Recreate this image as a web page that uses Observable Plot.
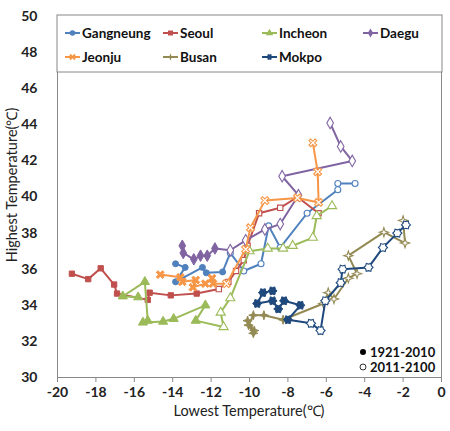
<!DOCTYPE html>
<html><head><meta charset="utf-8">
<script src="https://cdn.jsdelivr.net/npm/d3@7"></script>
<script src="https://cdn.jsdelivr.net/npm/@observablehq/plot@0.6"></script>
<style>body{margin:0;background:#fff}svg{display:block}</style>
</head><body><div id="chart"></div>
<script>
const xTicks = [-20,-18,-16,-14,-12,-10,-8,-6,-4,-2,0];
const yTicks = [30,32,34,36,38,40,42,44,46,48,50];
const sites = ["Gangneung","Seoul","Incheon","Daegu","Jeonju","Busan","Mokpo"];
const colors = ["#4F81BD","#C0504D","#9BBB59","#8064A2","#F79646","#948A54","#1F497D"];
const periods = ["1921-2010","2011-2100"];

// [lowest, highest] per decade; past = 1921-2010 (filled), future = 2011-2100 (open)
const gangneungPast = [[-13.85,36.3],[-13.35,36.1],[-13.85,35.3],[-12.45,36.1],[-12.25,35.8],[-11.4,35.85]];
const gangneungFuture = [[-11.0,36.9],[-10.3,35.9],[-9.4,36.3],[-9.0,38.4],[-8.4,37.2],[-7.0,39.1],[-5.4,40.4],[-5.4,40.75],[-4.5,40.75]];
const seoulPast = [[-19.25,35.75],[-18.4,35.45],[-17.75,36.05],[-17.05,35.15],[-16.9,34.65],[-15.3,34.3],[-15.2,34.7],[-14.1,34.55],[-12.75,34.65]];
const seoulFuture = [[-11.6,34.9],[-11.1,35.3],[-10.7,35.9],[-10.3,36.5],[-10.1,37.3],[-9.5,39.1],[-8.4,39.4],[-7.5,40.0],[-6.4,39.1]];
const incheonPast = [[-15.8,34.45],[-16.6,34.5],[-15.45,35.3],[-15.3,33.15],[-15.55,33.05],[-14.5,33.1],[-13.95,33.25],[-12.3,34.0],[-12.8,33.15]];
const incheonFuture = [[-11.35,32.8],[-11.5,33.6],[-11.0,34.4],[-10.0,37.0],[-9.05,37.15],[-8.25,37.15],[-7.75,37.3],[-6.7,37.75],[-6.5,38.95],[-5.7,39.5]];
const daeguPast = [[-13.5,37.3],[-13.45,36.9],[-12.9,36.55],[-12.55,36.75],[-12.2,36.75],[-11.8,37.15]];
const daeguFuture = [[-11.0,37.05],[-10.2,37.6],[-9.2,38.2],[-8.4,38.5],[-7.45,40.1],[-8.3,41.15],[-4.65,42.0],[-5.25,42.8],[-5.8,44.1]];
const jeonjuPast = [[-14.65,35.7],[-13.6,35.55],[-13.5,35.3],[-12.8,35.4],[-12.95,35.0],[-12.3,35.2],[-11.95,35.5],[-11.9,35.2]];
const jeonjuFuture = [[-11.2,35.2],[-10.2,37.1],[-9.95,38.3],[-9.2,39.8],[-7.5,39.95],[-6.4,39.7],[-6.45,41.4],[-6.7,43.0]];
const busanPast = [[-10.1,33.15],[-9.75,32.6],[-9.8,32.45],[-10.05,32.9],[-9.8,33.45],[-9.25,33.45],[-8.25,33.2]];
const busanFuture = [[-6.15,34.1],[-5.9,34.7],[-5.6,34.35],[-4.85,35.5],[-4.4,35.75],[-4.85,36.75],[-3.0,38.05],[-1.9,37.45],[-2.0,38.7]];
const mokpoPast = [[-8.8,34.8],[-9.3,34.7],[-9.6,34.1],[-8.8,34.25],[-8.5,33.8],[-8.2,34.25],[-7.35,34.0],[-8.0,33.2]];
const mokpoFuture = [[-6.8,33.0],[-6.3,32.6],[-6.05,34.25],[-5.25,35.25],[-5.15,36.0],[-3.8,36.1],[-3.05,37.2],[-2.3,38.0],[-1.85,38.45]];

const past = [gangneungPast,seoulPast,incheonPast,daeguPast,jeonjuPast,busanPast,mokpoPast];
const future = [gangneungFuture,seoulFuture,incheonFuture,daeguFuture,jeonjuFuture,busanFuture,mokpoFuture];

// custom marker shapes
const xCross = {draw(ctx, size){const r=Math.sqrt(size/Math.PI)*1.15,w=r*0.42;
  const pts=[[0,-w],[r-w,-r],[r,-r+w],[w,0],[r,r-w],[r-w,r],[0,w],[-r+w,r],[-r,r-w],[-w,0],[-r,-r+w],[-r+w,-r]];
  ctx.moveTo(...pts[0]);for(const p of pts.slice(1))ctx.lineTo(...p);ctx.closePath();}};
const star4 = {draw(ctx, size){const r=Math.sqrt(size/Math.PI)*1.35,i=r*0.35;
  for(let k=0;k<8;k++){const a=k*Math.PI/4-Math.PI/2,rr=k%2?i:r;const p=[rr*Math.cos(a),rr*Math.sin(a)];k?ctx.lineTo(...p):ctx.moveTo(...p);}ctx.closePath();}};
const gear = {draw(ctx, size){const r=Math.sqrt(size/Math.PI)*1.2,i=r*0.72;
  for(let k=0;k<12;k++){const a=k*Math.PI/6,rr=k%2?i:r;const p=[rr*Math.cos(a),rr*Math.sin(a)];k?ctx.lineTo(...p):ctx.moveTo(...p);}ctx.closePath();}};
const symbols = ["circle","square","triangle","diamond",xCross,star4,gear];
const radii = [3.0,3.0,3.4,3.5,3.4,3.4,3.8];

const rows = sites.map((s,i)=>[
  ...past[i].map(([x,y])=>({site:s,x,y,period:periods[0]})),
  ...future[i].map(([x,y])=>({site:s,x,y,period:periods[1]}))]);

const marks = [Plot.frame({stroke:"#888"})];
sites.forEach((s,i)=>{
  marks.push(Plot.line(rows[i],{x:"x",y:"y",stroke:colors[i],strokeWidth:2}));
  marks.push(Plot.dot(rows[i].filter(d=>d.period===periods[0]),{x:"x",y:"y",symbol:()=>s,r:radii[i],fill:colors[i],stroke:colors[i],strokeWidth:1}));
  marks.push(Plot.dot(rows[i].filter(d=>d.period===periods[1]),{x:"x",y:"y",symbol:()=>s,r:radii[i],fill:"white",stroke:colors[i],strokeWidth:1.1}));
});

const chart = Plot.plot({
  width:450,height:431,
  marginLeft:57,marginRight:9,marginTop:16,marginBottom:54,
  style:{fontFamily:"Lato, sans-serif",background:"white"},
  x:{domain:[-20,0],ticks:xTicks},
  y:{domain:[30,50],ticks:yTicks},
  symbol:{domain:sites,range:symbols},
  marks:[
    Plot.axisX({ticks:xTicks,tickSize:5,tickPadding:5,fontSize:14,fontWeight:"bold",fill:"#222",stroke:"#888",label:null,tickFormat:d=>String(d).replace("−","-")}),
    Plot.axisY({ticks:yTicks,tickSize:0,tickPadding:20,fontSize:14,fontWeight:"bold",fill:"#222",label:null}),
    ...marks
  ]
});
document.getElementById("chart").appendChild(chart);

const svg = d3.select(chart);
// axis titles
svg.append("text").attr("x",249).attr("y",416).attr("text-anchor","middle")
  .style("font-family","Lato, sans-serif").style("font-size","14.5px").attr("fill","#222").text("Lowest Temperature(℃)");
svg.append("text").attr("transform","translate(17,185) rotate(-90)").attr("text-anchor","middle")
  .style("font-family","Lato, sans-serif").style("font-size","14.5px").attr("fill","#222").text("Highest Temperature(℃)");

// series legend
const lg = svg.append("g").style("font-family","Lato, sans-serif").style("font-size","13.5px").style("font-weight","bold").attr("text-anchor","start");
lg.append("rect").attr("x",57).attr("y",15).attr("width",385).attr("height",57).attr("fill","white").attr("stroke","#888");
const lpos = [[65,33],[163,33],[262,33],[363,33],[65,57],[163,57],[262,57]];
sites.forEach((s,i)=>{
  const [lx,ly]=lpos[i];
  lg.append("line").attr("x1",lx).attr("x2",lx+15).attr("y1",ly).attr("y2",ly).attr("stroke",colors[i]).attr("stroke-width",2);
  const sym = typeof symbols[i]==="string" ? ({circle:d3.symbolCircle,square:d3.symbolSquare,triangle:d3.symbolTriangle,diamond:d3.symbolDiamond})[symbols[i]] : symbols[i];
  lg.append("path").attr("transform",`translate(${lx+7.5},${ly})`).attr("d",d3.symbol(sym,Math.PI*2.8*2.8)()).attr("fill",colors[i]);
  lg.append("text").attr("x",lx+17).attr("y",ly).attr("dy","0.36em").attr("text-anchor","start").attr("fill","#111").text(s);
});

// period legend
const pg = svg.append("g").style("font-family","Lato, sans-serif").style("font-size","13px").style("font-weight","bold").attr("text-anchor","start");
pg.append("circle").attr("cx",363).attr("cy",352).attr("r",3).attr("fill","#000");
pg.append("text").attr("x",370).attr("y",352).attr("dy","0.36em").attr("text-anchor","start").attr("fill","#111").text(periods[0]);
pg.append("circle").attr("cx",363).attr("cy",367).attr("r",3).attr("fill","white").attr("stroke","#000").attr("stroke-width",0.8);
pg.append("text").attr("x",370).attr("y",367).attr("dy","0.36em").attr("text-anchor","start").attr("fill","#111").text(periods[1]);
</script></body></html>
